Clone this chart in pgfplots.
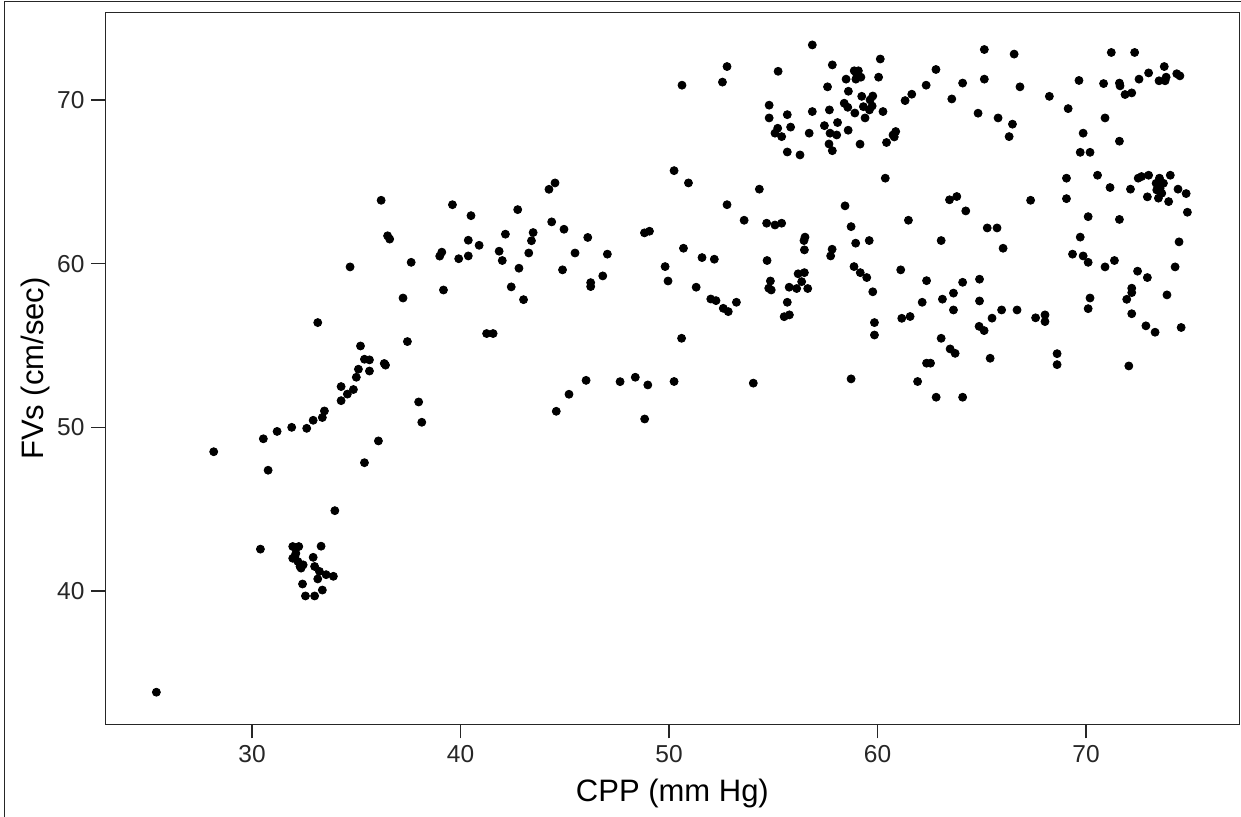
\documentclass[border=0pt]{standalone}
\usepackage{fontspec}
\setmainfont{Liberation Sans}
\usepackage{pgfplots}
\usepackage{pgfplotstable}
\pgfplotsset{compat=1.18}
\pgfplotstableread{
x y
25.41 33.82
28.16 48.51
30.40 42.56
30.54 49.30
30.77 47.38
31.20 49.75
31.90 50.00
32.62 49.94
32.93 50.43
33.37 50.60
33.47 51.00
33.15 56.40
34.27 51.63
34.57 52.03
34.86 52.31
34.27 52.49
35.00 53.06
35.10 53.55
35.63 53.44
35.20 54.97
35.39 54.16
35.63 54.12
36.34 53.90
36.40 53.80
34.70 59.80
36.19 63.87
36.50 61.70
36.60 61.50
37.24 57.90
37.45 55.24
36.06 49.17
35.39 47.84
33.97 44.91
33.31 42.74
31.95 42.72
32.24 42.72
32.10 42.30
31.95 42.00
32.20 41.80
32.35 41.40
32.45 41.60
32.05 42.10
32.30 41.50
32.93 42.06
33.00 41.50
33.23 41.20
33.55 41.00
33.90 40.90
33.15 40.74
32.42 40.43
33.37 40.06
32.56 39.70
33.00 39.70
37.63 60.08
37.99 51.55
38.14 50.31
39.10 60.70
39.00 60.46
39.18 58.39
39.61 63.60
39.91 60.30
40.37 60.47
40.37 61.43
40.50 62.93
40.89 61.12
41.25 55.73
41.56 55.73
41.85 60.76
42.00 60.19
42.15 61.80
42.43 58.58
42.74 63.30
42.80 59.72
43.02 57.80
43.27 60.65
43.40 61.40
43.48 61.90
44.24 64.54
44.53 64.93
44.37 62.55
44.96 62.10
44.89 59.62
45.49 60.65
44.59 50.98
45.20 52.02
46.02 52.87
46.10 61.60
46.24 58.84
46.24 58.60
46.82 59.25
47.04 60.58
47.65 52.79
48.38 53.06
48.82 61.88
49.06 61.98
48.98 52.59
48.83 50.51
49.81 59.82
49.95 58.94
50.24 52.80
50.24 65.68
50.60 55.44
50.62 70.90
50.93 64.93
52.56 71.09
52.78 72.04
52.78 63.60
54.33 64.55
55.23 71.75
54.80 69.68
54.80 68.90
55.67 69.10
55.21 68.27
55.08 67.97
55.40 67.76
55.83 68.34
55.67 66.82
56.28 66.64
56.87 73.36
56.87 69.29
56.72 67.97
57.83 72.14
57.60 70.80
57.69 69.39
57.45 68.43
57.72 67.97
58.04 67.86
57.67 67.31
57.83 66.90
58.08 68.62
58.59 68.15
58.49 71.27
58.88 71.78
59.08 71.78
58.99 71.60
58.96 71.27
59.20 71.39
58.60 70.53
58.40 69.80
58.57 69.55
58.91 69.20
59.24 70.22
59.32 69.59
59.77 70.24
59.64 70.00
59.74 69.63
59.61 69.39
59.40 68.90
59.16 67.30
60.05 71.39
60.13 72.50
60.26 69.29
60.87 68.07
60.74 67.86
60.80 67.74
60.43 67.40
60.37 65.22
61.64 70.35
61.32 69.96
62.33 70.90
62.80 71.86
63.56 70.06
58.44 63.53
64.08 71.03
65.12 73.08
65.12 71.27
66.55 72.80
66.83 70.80
64.82 69.19
65.78 68.90
66.47 68.52
66.31 67.76
68.24 70.22
69.66 71.19
69.14 69.47
69.86 67.97
69.72 66.80
70.19 66.80
70.84 71.00
70.91 68.90
71.21 72.90
71.60 71.03
71.63 70.86
71.87 70.33
72.19 70.43
71.60 67.48
72.33 72.90
72.54 71.27
73.00 71.65
73.75 72.04
73.50 71.17
73.84 71.39
73.79 71.17
74.35 71.60
74.50 71.47
69.06 65.22
70.55 65.40
71.15 64.65
72.13 64.55
72.50 65.22
72.66 65.32
73.00 65.40
73.52 65.22
73.36 64.91
73.71 64.91
73.55 64.60
73.39 64.50
73.63 64.30
73.47 64.00
74.04 65.40
72.94 64.08
73.96 63.79
74.41 64.55
74.80 64.28
74.86 63.14
69.06 63.97
67.34 63.87
63.45 63.90
63.80 64.10
64.23 63.22
70.10 62.87
71.60 62.70
53.60 62.65
54.68 62.47
55.08 62.36
55.40 62.47
58.73 62.26
61.48 62.65
56.52 61.62
56.47 61.41
56.49 60.84
58.95 61.25
59.60 61.41
63.05 61.41
50.69 60.94
51.58 60.37
52.17 60.27
57.82 60.88
57.75 60.47
54.70 60.19
51.30 58.56
58.87 59.82
59.17 59.45
59.48 59.15
59.77 58.28
61.11 59.62
62.35 58.96
56.19 59.38
56.49 59.45
56.36 58.90
54.86 58.94
54.78 58.50
54.90 58.39
55.76 58.56
56.12 58.48
56.65 58.48
52.00 57.84
52.25 57.74
52.60 57.27
52.84 57.07
53.23 57.64
55.67 57.64
55.52 56.76
55.77 56.87
59.85 56.40
59.85 55.64
61.16 56.66
61.56 56.77
62.14 57.64
63.11 57.83
63.64 58.20
63.64 57.17
63.05 55.44
63.48 54.79
63.72 54.52
62.35 53.92
62.54 53.92
54.04 52.70
58.73 52.96
61.92 52.80
62.81 51.84
65.26 62.18
65.73 62.18
66.02 60.94
69.72 61.62
69.35 60.58
69.86 60.47
70.10 60.08
70.91 59.80
71.36 60.19
74.46 61.33
74.27 59.80
72.47 59.54
72.94 59.15
72.19 58.50
72.19 58.23
71.95 57.82
73.88 58.09
70.19 57.90
70.10 57.25
72.19 56.94
72.87 56.20
73.31 55.81
74.56 56.10
72.05 53.75
64.08 58.86
64.89 59.05
64.89 57.72
65.95 57.17
65.49 56.67
66.69 57.17
64.87 56.17
65.11 55.91
67.58 56.69
68.03 56.87
68.03 56.46
65.40 54.22
68.61 54.50
68.61 53.83
64.08 51.84
}\pts
\begin{document}
\begin{tikzpicture}
\useasboundingbox (0pt,0pt) rectangle (620.5pt,408.5pt);
\draw[line width=0.65pt, black!85] (2.25pt,0pt) -- (2.25pt,407.75pt) -- (620.5pt,407.75pt);
\begin{axis}[
  at={(52.75pt,46.35pt)}, anchor=south west,
  scale only axis, width=566.9pt, height=355.8pt,
  xmin=22.97, xmax=77.35, ymin=31.86, ymax=75.33,
  xtick={30,40,50,60,70}, ytick={40,50,60,70},
  xtick pos=bottom, ytick pos=left,
  tick align=outside, major tick length=7pt,
  axis line style={line width=0.65pt, black!85},
  every tick/.style={line width=0.65pt, black!85},
  /pgf/number format/assume math mode=true,
  tick label style={font=\fontsize{12.25}{14}\selectfont, text=black!85},
  label style={font=\fontsize{15.5}{18}\selectfont},
  xlabel={CPP (mm Hg)},
  ylabel={FVs (cm/sec)},
  xlabel style={at={(axis description cs:0.5,-0.1088)}, anchor=base},
  ylabel style={at={(axis description cs:-0.0543,0.5)}, anchor=base, rotate=0},
]
\addplot[only marks, mark=*, mark size=2pt, black, mark options={fill=black}] table[x=x,y=y] {\pts};
\end{axis}
\end{tikzpicture}
\end{document}
